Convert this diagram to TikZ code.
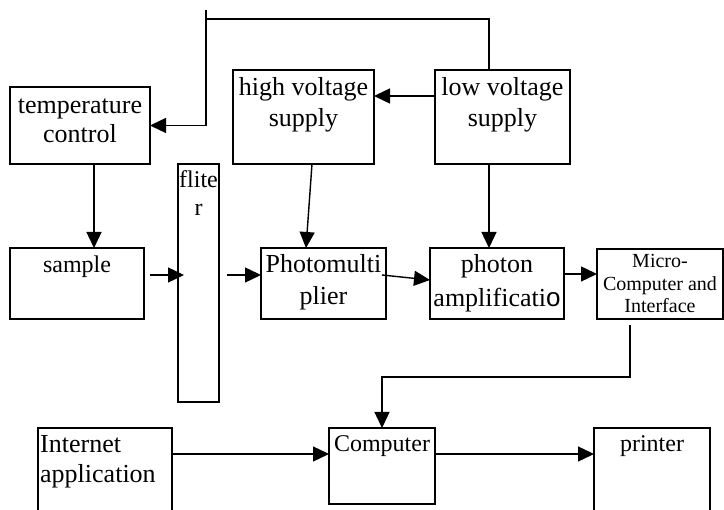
\documentclass[tikz,border=0pt]{standalone}
\usepackage{fontspec}
\setmainfont{Liberation Serif}
\newfontfamily\arialfont{Liberation Sans}
\usetikzlibrary{arrows.meta}
\tikzset{
  box/.style={draw, line width=1.4pt, inner sep=0pt, outer sep=0pt},
  arr/.style={-{Triangle[length=16pt,width=15pt]}, line width=1.4pt},
  plain/.style={line width=1.4pt},
  big/.style={font=\fontsize{26}{30}\selectfont, align=center, anchor=base, inner sep=0pt},
  mid/.style={font=\fontsize{24}{28}\selectfont, align=center, anchor=base, inner sep=0pt},
  small/.style={font=\fontsize{20}{22.5}\selectfont, align=center, anchor=base, inner sep=0pt}
}
\begin{document}
\begin{tikzpicture}[x=1pt,y=-1pt]
\useasboundingbox (0,0) rectangle (724,510);
% boxes
\node[box, minimum width=140pt, minimum height=77pt] (tc) at (80,125.5) {};
\node[box, minimum width=141pt, minimum height=94pt] (hv) at (303.5,117) {};
\node[box, minimum width=135pt, minimum height=94pt] (lv) at (502.5,117) {};
\node[box, minimum width=41pt, minimum height=238pt] (filter) at (198.5,283) {};
\node[box, minimum width=134pt, minimum height=71pt] (sample) at (77,283.5) {};
\node[box, minimum width=125pt, minimum height=71pt] (pm) at (323.5,283.5) {};
\node[box, minimum width=134pt, minimum height=71pt] (ph) at (497,283.5) {};
\node[box, minimum width=126pt, minimum height=70pt] (mc) at (660,284) {};
\node[box, minimum width=134pt, minimum height=112pt] (ia) at (105,484) {};
\node[box, minimum width=106pt, minimum height=76pt] (comp) at (382,466) {};
\node[box, minimum width=116pt, minimum height=112pt] (pr) at (652,484) {};
% texts (anchor = baseline of last line)
\node[big, font=\fontsize{26}{29}\selectfont] (t1) at (80,143) {temperature\\control};
\node[big, font=\fontsize{26}{31}\selectfont] (t2) at (303.5,127) {high voltage\\supply};
\node[big, font=\fontsize{26}{31}\selectfont] (t3) at (502.5,127) {low voltage\\supply};
\node[mid] (t4) at (77,273) {sample};
\node[mid] (t5) at (198.5,216) {flite\\r};
\node[big, font=\fontsize{26}{32}\selectfont] (t6) at (323.5,305) {Photomulti\\plier};
\node[big, font=\fontsize{26}{34}\selectfont] (t7) at (497,307) {photon\\amplificati{\arialfont o}};
\node[small] (t8) at (660,313) {Micro-\\Computer and\\Interface};
\node[big, align=left, anchor=base west] (t9) at (40,483) {Internet\\application};
\node[mid] (t10) at (382,452) {Computer};
\node[mid] (t11) at (652,452) {printer};
% connectors
\coordinate (tk) at (206,10);
\coordinate (corner) at (206,19);
\draw[plain] (tk) -- (corner);
\draw[arr] ([xshift=-13.5pt]lv.north) |- (corner) -- (corner |- tc.east) -- (tc.east);
\draw[arr] ([yshift=21pt]lv.west) -- ([yshift=21pt]hv.east);
\draw[arr] ([xshift=-13.5pt]lv.south) -- ([xshift=-8pt]ph.north);
\draw[arr] ([xshift=8.5pt]hv.south) -- ([xshift=-17.5pt]pm.north);
\draw[arr] ([xshift=14pt]tc.south) -- ([xshift=17pt]sample.north);
\draw[arr] ([shift={(6pt,8.5pt)}]sample.east) -- ([shift={(6pt,8pt)}]filter.west);
\draw[arr] ([shift={(8pt,8pt)}]filter.east) -- ([yshift=8.5pt]pm.west);
\draw[arr] ([shift={(-4pt,8.5pt)}]pm.east) -- ([yshift=3.5pt]ph.west);
\draw[arr] ([yshift=9.5pt]ph.east) -- ([yshift=10pt]mc.west);
\draw[arr] ([shift={(-30pt,-6pt)}]mc.south) -- ++(0,52) -| (comp.north);
\draw[arr] ([yshift=30pt]ia.east) -- ([yshift=12pt]comp.west);
\draw[arr] ([yshift=12pt]comp.east) -- ([yshift=30pt]pr.west);
\end{tikzpicture}
\end{document}
